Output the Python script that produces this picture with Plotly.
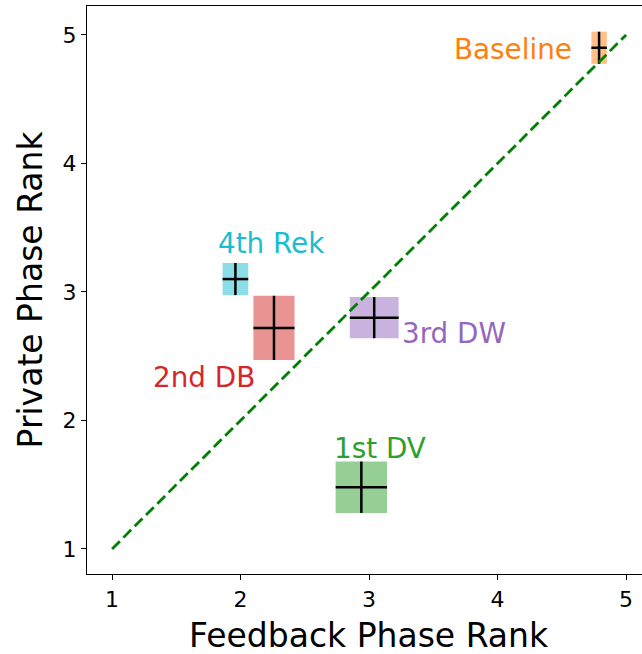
import plotly.graph_objects as go

# ---- data ----
methods = ["Baseline", "1st DV", "2nd DB", "3rd DW", "4th Rek"]
feedback_mean = [4.79, 2.94, 2.26, 3.04, 1.96]
feedback_std = [0.06, 0.20, 0.16, 0.19, 0.10]
private_mean = [4.90, 1.48, 2.72, 2.80, 3.10]
private_std = [0.125, 0.20, 0.25, 0.16, 0.125]
x_ticks = [1, 2, 3, 4, 5]
y_ticks = [1, 2, 3, 4, 5]
diag = [1, 5]

# ---- style ----
colors = ["#ff7f0e", "#2ca02c", "#d62728", "#9467bd", "#17becf"]
# label offsets in pixels (xshift, yshift, xanchor)
label_style = [
    (-25, -2, "right"),
    (-29, 39, "left"),
    (-70, -50, "center"),
    (26, -16, "left"),
    (36, 36, "center"),
]
FONT = "DejaVu Sans"

fig = go.Figure()

shapes = []
for m, fx, fs, py, ps, c in zip(methods, feedback_mean, feedback_std,
                                private_mean, private_std, colors):
    shapes.append(dict(type="rect", xref="x", yref="y",
                       x0=fx - fs, x1=fx + fs, y0=py - ps, y1=py + ps,
                       fillcolor=c, opacity=0.5, line=dict(width=0),
                       layer="below"))

fig.add_trace(go.Scatter(
    x=feedback_mean, y=private_mean, mode="markers",
    marker=dict(size=1, color="black", opacity=0),
    error_x=dict(type="data", array=feedback_std, color="black",
                 thickness=2.5, width=0),
    error_y=dict(type="data", array=private_std, color="black",
                 thickness=2.5, width=0),
    showlegend=False, hoverinfo="skip"))

fig.add_trace(go.Scatter(
    x=diag, y=diag, mode="lines",
    line=dict(color="#008000", width=2.8, dash="11px,5px"),
    showlegend=False, hoverinfo="skip"))

annotations = []
for m, fx, py, c, (dx, dy, xa) in zip(methods, feedback_mean, private_mean,
                                      colors, label_style):
    annotations.append(dict(x=fx, y=py, xref="x", yref="y", text=m,
                            showarrow=False, xanchor=xa, yanchor="middle",
                            xshift=dx, yshift=dy,
                            font=dict(family=FONT, size=27.8, color=c)))

annotations.append(dict(text="Feedback Phase Rank", xref="paper", yref="paper",
                        x=0.508, y=0, yanchor="top", xanchor="center",
                        yshift=-40, showarrow=False,
                        font=dict(family=FONT, size=33, color="black")))
annotations.append(dict(text="Private Phase Rank", xref="paper", yref="paper",
                        x=0, y=0.501, xanchor="center", yanchor="middle",
                        xshift=-57, textangle=-90, showarrow=False,
                        font=dict(family=FONT, size=33, color="black")))

fig.update_layout(
    width=642, height=654,
    margin=dict(l=87, r=0, t=6, b=80),
    plot_bgcolor="white", paper_bgcolor="white",
    shapes=shapes, annotations=annotations,
    font=dict(family=FONT, color="black"),
    xaxis=dict(range=[0.805, 5.124], tickvals=x_ticks,
               ticktext=[str(t) for t in x_ticks],
               showgrid=False, zeroline=False, showline=True,
               linecolor="black", linewidth=1.3, mirror=True,
               ticks="outside", ticklen=5, tickwidth=1.2, tickcolor="black",
               tickfont=dict(family=FONT, size=22, color="black")),
    yaxis=dict(range=[0.805, 5.225], tickvals=y_ticks,
               ticktext=[str(t) for t in y_ticks],
               showgrid=False, zeroline=False, showline=True,
               linecolor="black", linewidth=1.3, mirror=False,
               ticks="outside", ticklen=5, tickwidth=1.2, tickcolor="black",
               tickfont=dict(family=FONT, size=22, color="black")),
)

fig.write_html("out.html", config={"displayModeBar": False},
               post_script="document.body.style.margin='0';"
                           "document.body.style.overflow='hidden';")
